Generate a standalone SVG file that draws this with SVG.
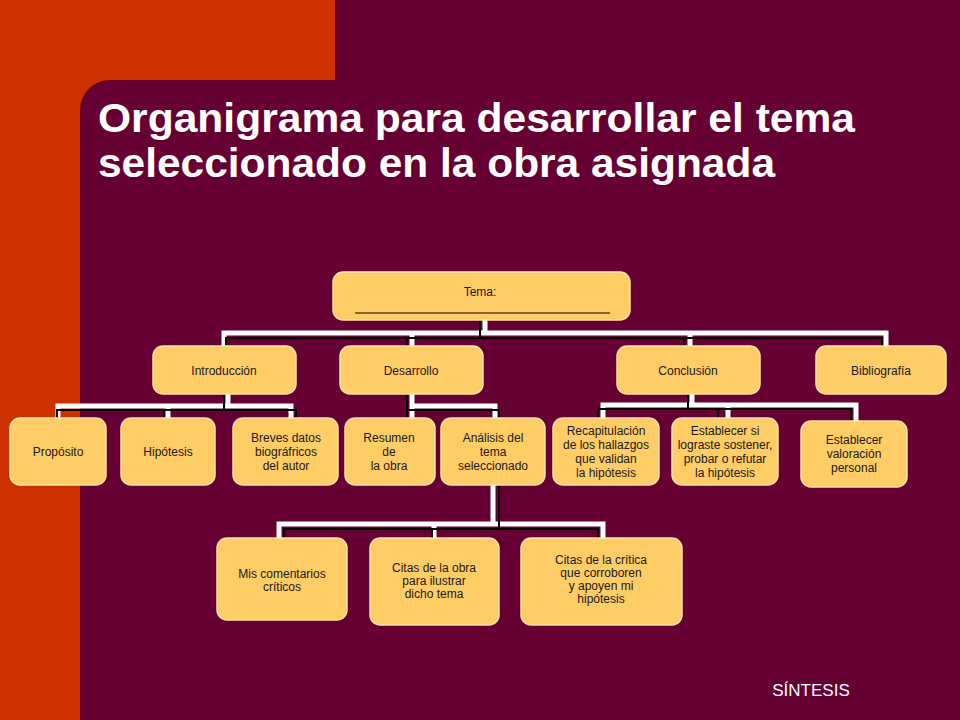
<svg xmlns="http://www.w3.org/2000/svg" width="960" height="720" viewBox="0 0 960 720">
<style>
.b{fill:#FFCC66;stroke:#FFE3A8;stroke-width:1.5}
.t{font-family:"Liberation Sans",Arial,sans-serif;font-size:12px;fill:#1a1a1a;text-anchor:middle}
.w{fill:none;stroke:#fff;stroke-width:5}
.k{fill:none;stroke:#000;stroke-width:2}
</style>
<rect width="960" height="720" fill="#CC3300"/>
<path d="M335 0H960V720H80V110A30 30 0 0 1 110 80H335Z" fill="#660033"/>
<text x="98" y="132" font-family="Liberation Sans,Arial,sans-serif" font-size="40" font-weight="bold" fill="#fff" textLength="757" lengthAdjust="spacingAndGlyphs">Organigrama para desarrollar el tema</text>
<text x="98" y="177" font-family="Liberation Sans,Arial,sans-serif" font-size="40" font-weight="bold" fill="#fff" textLength="677" lengthAdjust="spacingAndGlyphs">seleccionado en la obra asignada</text>
<text x="811" y="696" font-family="Liberation Sans,Arial,sans-serif" font-size="17" fill="#fff" text-anchor="middle">SÍNTESIS</text>
<g id="connectors">
<path class="w" d="M485 320V333H224V346M485 333H412V346M485 333H690V346M485 333H886V346"/>
<path class="k" d="M480 320V338H226V346M480 338H407V346M480 338H684V346M480 338H882V346"/>
<path class="w" d="M228 394V406H58V418M228 406H168V418M228 406H291V418"/>
<path class="k" d="M224 394V410H57V418M224 410H164V418M224 410H296V418"/>
<path class="w" d="M412 394V406H412V418M412 406H495V418"/>
<path class="k" d="M407 394V410H407V418M407 410H499V418"/>
<path class="w" d="M692 394V405H603V418M692 405H728V418M692 405H856V421"/>
<path class="k" d="M688 394V409H598V418M688 409H718V418M688 409H851V421"/>
<path class="w" d="M493 485V524H279V538M493 524H434V538M493 524H603V538" stroke-width="6"/>
<path class="k" d="M499 485V529H284V538M499 529H432V538M499 529H598V538"/>
</g>
<g id="tema"><rect class="b" x="333" y="272" width="297" height="48" rx="10"/><text class="t" x="480" y="296" font-size="14">Tema:</text><line x1="355" y1="313" x2="610" y2="313" stroke="#000" stroke-width="1"/></g>
<g id="intro"><rect class="b" x="153" y="346" width="143" height="48" rx="10"/><text class="t" x="224" y="375">Introducción</text></g>
<g id="desarrollo"><rect class="b" x="340" y="346" width="143" height="48" rx="10"/><text class="t" x="411" y="375">Desarrollo</text></g>
<g id="conclusion"><rect class="b" x="617" y="346" width="143" height="48" rx="10"/><text class="t" x="688" y="375">Conclusión</text></g>
<g id="bibliografia"><rect class="b" x="816" y="346" width="130" height="48" rx="10"/><text class="t" x="881" y="375">Bibliografía</text></g>
<g id="proposito"><rect class="b" x="10" y="418" width="96" height="67" rx="10"/><text class="t" x="58" y="456" font-size="13">Propósito</text></g>
<g id="hipotesis"><rect class="b" x="121" y="418" width="94" height="67" rx="10"/><text class="t" x="168" y="456">Hipótesis</text></g>
<g id="breves"><rect class="b" x="233" y="418" width="105" height="67" rx="10"/><text class="t" x="286" y="442">Breves datos<tspan x="286" dy="14">biográfricos</tspan><tspan x="286" dy="14">del autor</tspan></text></g>
<g id="resumen"><rect class="b" x="345" y="418" width="90" height="67" rx="10"/><text class="t" x="389" y="442">Resumen<tspan x="389" dy="14">de</tspan><tspan x="389" dy="14">la obra</tspan></text></g>
<g id="analisis"><rect class="b" x="441" y="418" width="104" height="67" rx="10"/><text class="t" x="493" y="442">Análisis del<tspan x="493" dy="14">tema</tspan><tspan x="493" dy="14">seleccionado</tspan></text></g>
<g id="recap"><rect class="b" x="553" y="418" width="106" height="67" rx="10"/><text class="t" x="606" y="435">Recapitulación<tspan x="606" dy="14">de los hallazgos</tspan><tspan x="606" dy="14">que validan</tspan><tspan x="606" dy="14">la hipótesis</tspan></text></g>
<g id="establecer"><rect class="b" x="672" y="418" width="106" height="67" rx="10"/><text class="t" x="725" y="435">Establecer si<tspan x="725" dy="14">lograste sostener,</tspan><tspan x="725" dy="14">probar o refutar</tspan><tspan x="725" dy="14">la hipótesis</tspan></text></g>
<g id="valoracion"><rect class="b" x="801" y="421" width="106" height="66" rx="10"/><text class="t" x="854" y="444">Establecer<tspan x="854" dy="14">valoración</tspan><tspan x="854" dy="14">personal</tspan></text></g>
<g id="comentarios"><rect class="b" x="217" y="538" width="130" height="82" rx="10"/><text class="t" x="282" y="578">Mis comentarios<tspan x="282" dy="13">críticos</tspan></text></g>
<g id="citasobra"><rect class="b" x="370" y="538" width="129" height="87" rx="10"/><text class="t" x="434" y="572">Citas de la obra<tspan x="434" dy="13">para ilustrar</tspan><tspan x="434" dy="13">dicho tema</tspan></text></g>
<g id="citascritica"><rect class="b" x="521" y="538" width="161" height="87" rx="10"/><text class="t" x="601" y="564">Citas de la crítica<tspan x="601" dy="13">que corroboren</tspan><tspan x="601" dy="13">y apoyen mi</tspan><tspan x="601" dy="13">hipótesis</tspan></text></g>
</svg>
